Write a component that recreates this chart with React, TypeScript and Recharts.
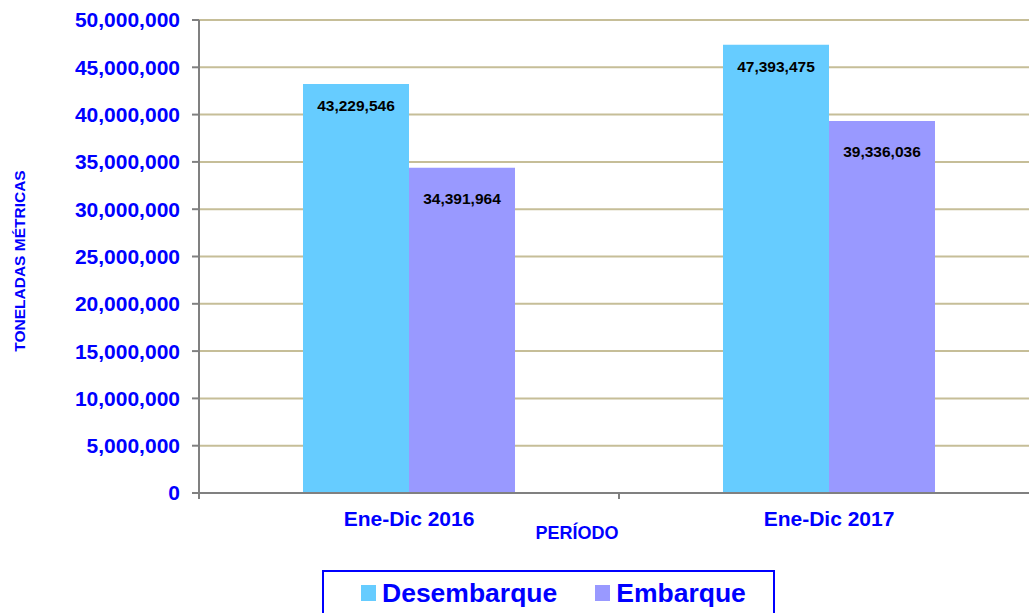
import React from 'react';
import {
  BarChart,
  Bar,
  XAxis,
  YAxis,
  CartesianGrid,
  Legend,
  LabelList,
  Label,
} from 'recharts';

// datos del gráfico
const categories = ['Ene-Dic 2016', 'Ene-Dic 2017'];
const desembarque = [43229546, 47393475];
const embarque = [34391964, 39336036];
const yTicks = [0, 5000000, 10000000, 15000000, 20000000, 25000000, 30000000, 35000000, 40000000, 45000000, 50000000];
const seriesNames = ['Desembarque', 'Embarque'];
const seriesColors = ['#66CCFF', '#9999FF'];

const data = categories.map((periodo, i) => ({
  periodo,
  desembarque: desembarque[i],
  embarque: embarque[i],
}));

const FONT = 'Arial, "Liberation Sans", sans-serif';
const BLUE = '#0000FF';
const fmt = (v: number) => v.toLocaleString('en-US');

const valueLabel = (dy: number) => (props: any) => {
  const { x, y, width, value } = props;
  return (
    <text
      x={Number(x) + Number(width) / 2}
      y={Number(y) + dy}
      textAnchor="middle"
      dominantBaseline="central"
      fontFamily={FONT}
      fontWeight="bold"
      fontSize={15.5}
      fill="#000"
    >
      {fmt(Number(value))}
    </text>
  );
};

// etiqueta de categoría + marcas entre categorías (estilo Excel)
const CategoryTick = (props: any) => {
  const { x, y, payload } = props;
  const half = payload && payload.offset ? payload.offset : 210;
  const axisY = y - 18;
  return (
    <g>
      <line x1={x - half} y1={axisY} x2={x - half} y2={axisY + 6} stroke="#808080" strokeWidth={2} />
      <line x1={x + half} y1={axisY} x2={x + half} y2={axisY + 6} stroke="#808080" strokeWidth={2} />
      <text
        x={x}
        y={y}
        dy="0.71em"
        textAnchor="middle"
        fontFamily={FONT}
        fontWeight="bold"
        fontSize={21}
        fill={BLUE}
      >
        {payload.value}
      </text>
    </g>
  );
};

const LegendBox = () => (
  <div
    style={{
      boxSizing: 'border-box',
      width: 453,
      height: 46,
      border: `2px solid ${BLUE}`,
      display: 'flex',
      alignItems: 'center',
      paddingLeft: 37,
      fontFamily: FONT,
      fontWeight: 'bold',
      fontSize: 26.5,
      color: BLUE,
    }}
  >
    {seriesNames.map((name, i) => (
      <div key={name} style={{ display: 'flex', alignItems: 'center', marginRight: i === 0 ? 38 : 0 }}>
        <span style={{ display: 'inline-block', width: 15, height: 16, background: seriesColors[i], marginRight: 6 }} />
        <span>{name}</span>
      </div>
    ))}
  </div>
);

export default function App() {
  return (
    <div
      style={{
        position: 'absolute',
        left: 0,
        top: 0,
        width: 1029,
        height: 613,
        overflow: 'hidden',
        background: '#fff',
      }}
    >
      <BarChart
        width={1039}
        height={613}
        data={data}
        margin={{ top: 20, right: 0, left: 0, bottom: 0 }}
        barCategoryGap={104}
        barGap={0}
      >
        <CartesianGrid vertical={false} stroke="#C6BE98" strokeWidth={2} />

        <XAxis
          dataKey="periodo"
          height={120}
          stroke="#808080"
          strokeWidth={2}
          tickLine={false}
          tickSize={6}
          tickMargin={12}
          tick={<CategoryTick />}
          interval={0}
        >
          <Label
            content={(p: any) => {
              const vb = p.viewBox || {};
              return (
                <text
                  x={vb.x + vb.width / 2 - 42}
                  y={533}
                  textAnchor="middle"
                  dominantBaseline="central"
                  fontFamily={FONT}
                  fontWeight="bold"
                  fontSize={18}
                  fill={BLUE}
                >
                  PERÍODO
                </text>
              );
            }}
          />
        </XAxis>

        <YAxis
          width={199}
          domain={[0, 50000000]}
          ticks={yTicks}
          interval={0}
          stroke="#808080"
          strokeWidth={2}
          tickSize={7}
          tickMargin={12}
          tick={{ fill: BLUE, fontSize: 21, fontWeight: 'bold', fontFamily: FONT }}
          tickFormatter={fmt}
        >
          <Label
            content={() => (
              <text
                x={19}
                y={261}
                transform="rotate(-90 19 261)"
                textAnchor="middle"
                dominantBaseline="central"
                fontFamily={FONT}
                fontWeight="bold"
                fontSize={15.5}
                fill={BLUE}
              >
                TONELADAS MÉTRICAS
              </text>
            )}
          />
        </YAxis>

        <Legend
          layout="horizontal"
          verticalAlign="middle"
          content={<LegendBox />}
          wrapperStyle={{ left: 322, top: 570, width: 453, height: 46 }}
        />

        <Bar dataKey="desembarque" name={seriesNames[0]} fill={seriesColors[0]} isAnimationActive={false}>
          <LabelList dataKey="desembarque" content={valueLabel(21.5)} />
        </Bar>
        <Bar dataKey="embarque" name={seriesNames[1]} fill={seriesColors[1]} isAnimationActive={false}>
          <LabelList dataKey="embarque" content={valueLabel(31)} />
        </Bar>
      </BarChart>
    </div>
  );
}
